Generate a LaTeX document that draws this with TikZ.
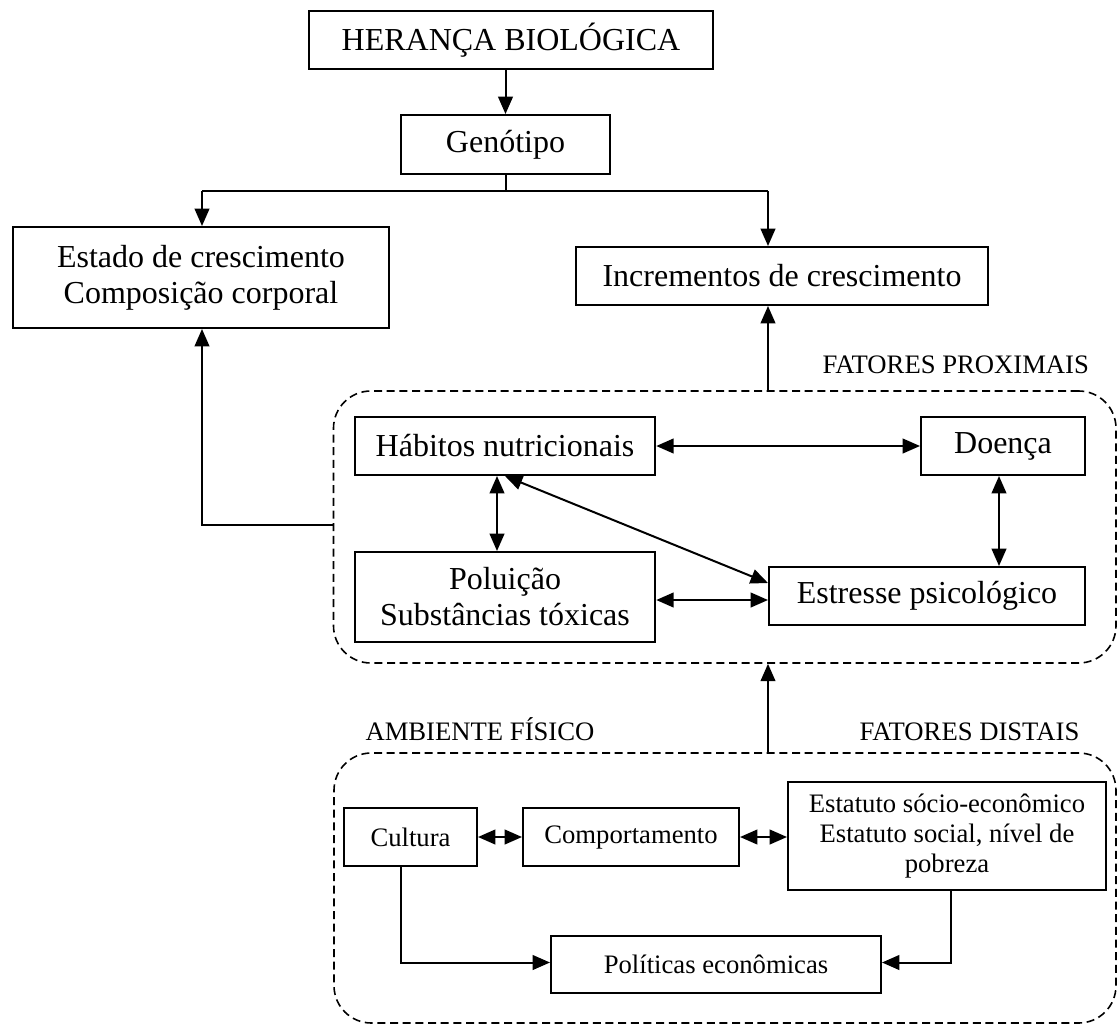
\documentclass[tikz,border=0pt]{standalone}
\usepackage{fontspec}
\setmainfont{Liberation Serif}
\usetikzlibrary{arrows.meta}

\tikzset{every picture/.style={line width=0.75pt}}
\tikzset{
  caixa/.style={draw, line width=1.5pt, inner sep=0pt, align=center, font=\fontsize{24}{27}\selectfont},
  caixinha/.style={draw, line width=1.5pt, inner sep=0pt, align=center, font=\fontsize{20}{22.5}\selectfont},
  zona/.style={draw, line width=1.2pt, dash pattern=on 6pt off 3.5pt, rounded corners=28pt, inner sep=0pt},
  rotulo/.style={inner sep=0pt, font=\fontsize{20}{22.5}\selectfont},
  linha/.style={line width=1.5pt},
  seta/.style={line width=1.5pt, -{Triangle[length=13pt,width=11pt]}},
  dupla/.style={line width=1.5pt, {Triangle[length=13pt,width=11pt]}-{Triangle[length=13pt,width=11pt]}},
}

\begin{document}
\begin{tikzpicture}[x=0.75pt,y=0.75pt,yscale=-1,xscale=1]
\useasboundingbox (0,0) rectangle (1118,1025);

% Text Node
\node [caixa, minimum width=303pt, minimum height=44pt] (heranca) at (511,40) {HERANÇA BIOLÓGICA};
% Text Node
\node [caixa, minimum width=156.75pt, minimum height=44.25pt] (genotipo) at (505.5,144.5) {Genótipo};
% Text Node
\node [caixa, minimum width=282pt, minimum height=75.75pt] (estado) at (201,277.5) {Estado de crescimento\\Composição corporal};
% Text Node
\node [caixa, minimum width=309pt, minimum height=43.5pt] (incrementos) at (782,276) {Incrementos de crescimento};

% Text Node
\node [zona, minimum width=586.9pt, minimum height=204pt] (prox) at (724.75,527) {};
\node [rotulo, anchor=base west] (lblprox) at (822,373.8) {FATORES PROXIMAIS};
% Text Node
\node [caixa, minimum width=225.4pt, minimum height=43.5pt] (habitos) at (505,446) {Hábitos nutricionais};
% Text Node
\node [caixa, minimum width=123pt, minimum height=43.5pt] (doenca) at (1003,446) {Doença};
% Text Node
\node [caixa, minimum width=225.4pt, minimum height=67.5pt] (poluicao) at (505,597) {Poluição\\Substâncias tóxicas};
% Text Node
\node [caixa, minimum width=237pt, minimum height=43.5pt] (estresse) at (927,596) {Estresse psicológico};

% Text Node
\node [zona, minimum width=586.5pt, minimum height=202.5pt] (dist) at (725,888) {};
\node [rotulo, anchor=base west] (lblamb) at (365,740.5) {AMBIENTE FÍSICO};
\node [rotulo, anchor=base west] (lbldist) at (859,740.5) {FATORES DISTAIS};
% Text Node
\node [caixinha, minimum width=99.75pt, minimum height=43.5pt] (cultura) at (410.5,837) {Cultura};
% Text Node
\node [caixinha, minimum width=162pt, minimum height=43.5pt] (comport) at (631,837) {Comportamento};
% Text Node
\node [caixinha, minimum width=238.5pt, minimum height=81pt] (estatuto) at (947,836) {Estatuto sócio-econômico\\Estatuto social, nível de\\pobreza};
% Text Node
\node [caixinha, minimum width=247.5pt, minimum height=43.1pt] (politicas) at (716,964.5) {Políticas econômicas};

\coordinate (split) at (505.5,191);
\coordinate (splitL) at (202,191);
\coordinate (splitR) at (768,191);
\coordinate (retorno) at (202,525);

% Connection
\draw [seta] (heranca.south -| genotipo.north) -- (genotipo.north);
% Connection
\draw [linha] (genotipo.south) -- (split);
\draw [linha] (splitL) -- (splitR);
\draw [seta] (splitL) -- (estado.north -| splitL);
\draw [seta] (splitR) -- (incrementos.north -| splitR);
% Connection
\draw [seta] (prox.north -| splitR) -- (incrementos.south -| splitR);
% Connection
\draw [seta] (prox.west |- retorno) -- (retorno) -- (estado.south -| retorno);
% Connection
\draw [dupla] (habitos.east) -- (doenca.west);
\draw [dupla] ([xshift=-6pt]habitos.south) -- ([xshift=-6pt]poluicao.north);
\draw [dupla] (habitos.south) -- ([yshift=-9.75pt]estresse.west);
\draw [dupla] ([yshift=2.25pt]poluicao.east) -- ([yshift=2.25pt]poluicao.east -| estresse.west);
\draw [dupla] ([xshift=-3pt]doenca.south) -- ([xshift=-3pt]doenca.south |- estresse.north);
% Connection
\draw [seta] (dist.north -| splitR) -- (prox.south -| splitR);
% Connection
\draw [dupla] (cultura.east) -- (comport.west);
\draw [dupla] (comport.east) -- (comport.east -| estatuto.west);
\draw [seta] ([xshift=-7.5pt]cultura.south) |- ([yshift=-1.5pt]politicas.west);
\draw [seta] ([xshift=3pt]estatuto.south) |- ([yshift=-1.5pt]politicas.east);

\end{tikzpicture}
\end{document}
